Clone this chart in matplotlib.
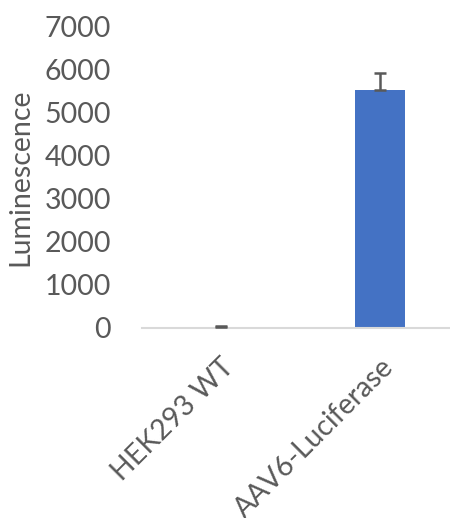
import matplotlib
matplotlib.use("Agg")
import matplotlib.pyplot as plt

categories = ["HEK293 WT", "AAV6-Luciferase"]
values = [20, 5520]
errors = [10, 400]
yticks = [0, 1000, 2000, 3000, 4000, 5000, 6000, 7000]

plt.rcParams['font.family'] = ['Lato', 'DejaVu Sans']
text_color = "#595959"

fig = plt.figure(figsize=(4.5, 5.18), dpi=100)
ax = fig.add_axes([141.5/450, (518-327.7)/518, 318/450, (327.7-26.7)/518])

x = range(len(categories))
ax.bar(x, values, width=0.315, color="#4472C4", zorder=2)
ax.errorbar(x, values, yerr=[[0]*len(errors), errors], fmt='none',
            ecolor="#595959", elinewidth=1.8, capsize=6.3*0.72, capthick=1.8, zorder=3)

ax.set_xlim(-0.5, 1.5)
ax.set_ylim(0, 7000)
ax.set_yticks(yticks)
ax.set_yticklabels([str(t) for t in yticks], fontsize=20.5, color=text_color)
ax.set_xticks(list(x))
ax.set_xticklabels(categories, rotation=45, ha='right', rotation_mode='anchor',
                   fontsize=20.5, color=text_color)
ax.tick_params(axis='y', length=0, pad=22)
ax.tick_params(axis='x', length=0, pad=19)

for s in ['top', 'right', 'left']:
    ax.spines[s].set_visible(False)
ax.spines['bottom'].set_color("#D9D9D9")
ax.spines['bottom'].set_linewidth(1.5)

fig.text(20/450, 1-177/518, "Luminescence", rotation=90, ha='center', va='center',
         fontsize=20.5, color=text_color)

fig.savefig("out.png", dpi=100)
